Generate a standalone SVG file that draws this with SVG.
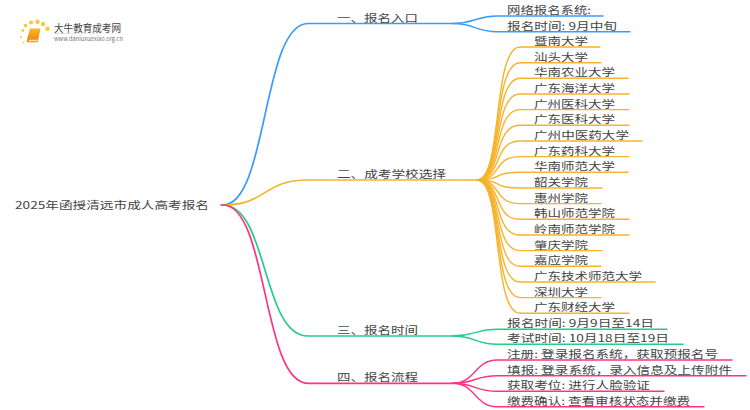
<svg xmlns="http://www.w3.org/2000/svg" width="750" height="410" viewBox="0 0 750 410">
<style>
text{font-family:"Noto Sans CJK SC","Noto Sans",sans-serif;fill:#444;font-size:10.5px}
.c{fill:none;stroke-width:1.4;stroke-linecap:round}
.b{stroke:#3d9bff}.o{stroke:#f7b32b}.g{stroke:#25cc8a}.p{stroke:#ff3385}
.m{stroke-width:1.7}
</style>
<defs><linearGradient id="bk" x1="0" y1="0" x2="0" y2="1"><stop offset="0" stop-color="#fbb81e"/><stop offset="1" stop-color="#ee7d14"/></linearGradient>
<linearGradient id="fd" x1="0" y1="0" x2="1" y2="0"><stop offset="0" stop-color="#ddd"/><stop offset="1" stop-color="#fff"/></linearGradient></defs>
<rect width="750" height="410" fill="#fff"/>
<g id="logo">
<g fill="#f9c83c"><circle cx="23" cy="30.500" r="1.400"/><circle cx="25.500" cy="25.500" r="1.800"/><circle cx="31" cy="22.500" r="2.100"/><circle cx="37.500" cy="21.800" r="2.200"/><circle cx="43" cy="24" r="2.200"/><circle cx="47.500" cy="28.800" r="2.300"/><circle cx="21" cy="37" r="1.100"/><circle cx="23.500" cy="42.500" r="1"/></g>
<path d="M30 28.500h10.500l-2.500 12.500q-.3 1.300-1.800 1.300H27.500q-.9-.6-.6-2z" fill="url(#bk)"/>
<path d="M29 39.800h8.500l-.5 1.500H28.500z" fill="#ffe9b8"/>
<rect x="54" y="33" width="80" height="1" fill="url(#fd)"/>
<text x="54" y="32" textLength="67" lengthAdjust="spacingAndGlyphs">大牛教育成考网</text>
<text x="54" y="41" style="font-size:6px;fill:#777" textLength="69" lengthAdjust="spacingAndGlyphs">www.daniuxuexiao.org.cn</text>
</g>
<g id="connectors">
<path class="c m p" d="M221 205H225"/>
<path class="c m b" d="M223 205C268 205 262 23.500 308 23.500H453"/>
<path class="c m o" d="M223 205C268 205 262 180 308 180H477"/>
<path class="c m g" d="M223 205C268 205 262 336 308 336H453"/>
<path class="c m p" d="M223 205C268 205 262 383.300 308 383.300H453"/>
<path class="c b" d="M453 23.500C475 23.500 475 16 497 16H603"/>
<path class="c b" d="M453 23.500C475 23.500 475 31.700 497 31.700H630"/>
<path class="c o" d="M477 180C503 180 492 47 520 47H600"/>
<path class="c o" d="M477 180C503 180 492 62.700 520 62.700H601"/>
<path class="c o" d="M477 180C503 180 492 78.300 520 78.300H628"/>
<path class="c o" d="M477 180C503 180 492 94 520 94H629"/>
<path class="c o" d="M477 180C503 180 492 109.600 520 109.600H629"/>
<path class="c o" d="M477 180C503 180 492 125.300 520 125.300H629"/>
<path class="c o" d="M477 180C503 180 492 141 520 141H642"/>
<path class="c o" d="M477 180C503 180 492 156.600 520 156.600H629"/>
<path class="c o" d="M477 180C503 180 492 172.300 520 172.300H628"/>
<path class="c o" d="M477 180C503 180 492 188 520 188H602"/>
<path class="c o" d="M477 180C503 180 492 203.600 520 203.600H601"/>
<path class="c o" d="M477 180C503 180 492 219.300 520 219.300H629"/>
<path class="c o" d="M477 180C503 180 492 235 520 235H629"/>
<path class="c o" d="M477 180C503 180 492 250.600 520 250.600H602"/>
<path class="c o" d="M477 180C503 180 492 266.300 520 266.300H601"/>
<path class="c o" d="M477 180C503 180 492 282 520 282H655"/>
<path class="c o" d="M477 180C503 180 492 297.600 520 297.600H601"/>
<path class="c o" d="M477 180C503 180 492 313.300 520 313.300H629"/>
<path class="c g" d="M453 336C475 336 475 329.300 497 329.300H667"/>
<path class="c g" d="M453 336C475 336 475 344.300 497 344.300H683"/>
<path class="c p" d="M453 383.300C475 383.300 475 360 497 360H732"/>
<path class="c p" d="M453 383.300C475 383.300 475 375.700 497 375.700H746"/>
<path class="c p" d="M453 383.300C475 383.300 475 391.300 497 391.300H664"/>
<path class="c p" d="M453 383.300C475 383.300 475 406.700 497 406.700H704"/>
</g>
<g id="root"><text x="15" y="209" textLength="194" lengthAdjust="spacingAndGlyphs">2025年函授清远市成人高考报名</text></g>
<g id="n1"><text x="337" y="22" textLength="81" lengthAdjust="spacingAndGlyphs">一、报名入口</text></g>
<g id="n2"><text x="337" y="178" textLength="109" lengthAdjust="spacingAndGlyphs">二、成考学校选择</text></g>
<g id="n3"><text x="337" y="334" textLength="81" lengthAdjust="spacingAndGlyphs">三、报名时间</text></g>
<g id="n4"><text x="337" y="381" textLength="81" lengthAdjust="spacingAndGlyphs">四、报名流程</text></g>
<g id="n1a"><text x="507" y="14" textLength="84" lengthAdjust="spacingAndGlyphs">网络报名系统:</text></g>
<g id="n1b"><text x="507" y="29.500" textLength="110" lengthAdjust="spacingAndGlyphs">报名时间: 9月中旬</text></g>
<g id="s1"><text x="534" y="45" textLength="54" lengthAdjust="spacingAndGlyphs">暨南大学</text></g>
<g id="s2"><text x="534" y="60.700" textLength="54" lengthAdjust="spacingAndGlyphs">汕头大学</text></g>
<g id="s3"><text x="534" y="76.300" textLength="81" lengthAdjust="spacingAndGlyphs">华南农业大学</text></g>
<g id="s4"><text x="534" y="92" textLength="81" lengthAdjust="spacingAndGlyphs">广东海洋大学</text></g>
<g id="s5"><text x="534" y="107.600" textLength="81" lengthAdjust="spacingAndGlyphs">广州医科大学</text></g>
<g id="s6"><text x="534" y="123.300" textLength="81" lengthAdjust="spacingAndGlyphs">广东医科大学</text></g>
<g id="s7"><text x="534" y="139" textLength="95" lengthAdjust="spacingAndGlyphs">广州中医药大学</text></g>
<g id="s8"><text x="534" y="154.600" textLength="81" lengthAdjust="spacingAndGlyphs">广东药科大学</text></g>
<g id="s9"><text x="534" y="170.300" textLength="81" lengthAdjust="spacingAndGlyphs">华南师范大学</text></g>
<g id="s10"><text x="534" y="186" textLength="54" lengthAdjust="spacingAndGlyphs">韶关学院</text></g>
<g id="s11"><text x="534" y="201.600" textLength="54" lengthAdjust="spacingAndGlyphs">惠州学院</text></g>
<g id="s12"><text x="534" y="217.300" textLength="81" lengthAdjust="spacingAndGlyphs">韩山师范学院</text></g>
<g id="s13"><text x="534" y="233" textLength="81" lengthAdjust="spacingAndGlyphs">岭南师范学院</text></g>
<g id="s14"><text x="534" y="248.600" textLength="54" lengthAdjust="spacingAndGlyphs">肇庆学院</text></g>
<g id="s15"><text x="534" y="264.300" textLength="54" lengthAdjust="spacingAndGlyphs">嘉应学院</text></g>
<g id="s16"><text x="534" y="280" textLength="108" lengthAdjust="spacingAndGlyphs">广东技术师范大学</text></g>
<g id="s17"><text x="534" y="295.600" textLength="54" lengthAdjust="spacingAndGlyphs">深圳大学</text></g>
<g id="s18"><text x="534" y="311.300" textLength="81" lengthAdjust="spacingAndGlyphs">广东财经大学</text></g>
<g id="n3a"><text x="507" y="327.300" textLength="147" lengthAdjust="spacingAndGlyphs">报名时间: 9月9日至14日</text></g>
<g id="n3b"><text x="507" y="342.300" textLength="162" lengthAdjust="spacingAndGlyphs">考试时间: 10月18日至19日</text></g>
<g id="n4a"><text x="507" y="358" textLength="211" lengthAdjust="spacingAndGlyphs">注册: 登录报名系统，获取预报名号</text></g>
<g id="n4b"><text x="507" y="373.700" textLength="225" lengthAdjust="spacingAndGlyphs">填报: 登录系统，录入信息及上传附件</text></g>
<g id="n4c"><text x="507" y="389.300" textLength="143" lengthAdjust="spacingAndGlyphs">获取考位: 进行人脸验证</text></g>
<g id="n4d"><text x="507" y="404.700" textLength="183" lengthAdjust="spacingAndGlyphs">缴费确认: 查看审核状态并缴费</text></g>
</svg>
